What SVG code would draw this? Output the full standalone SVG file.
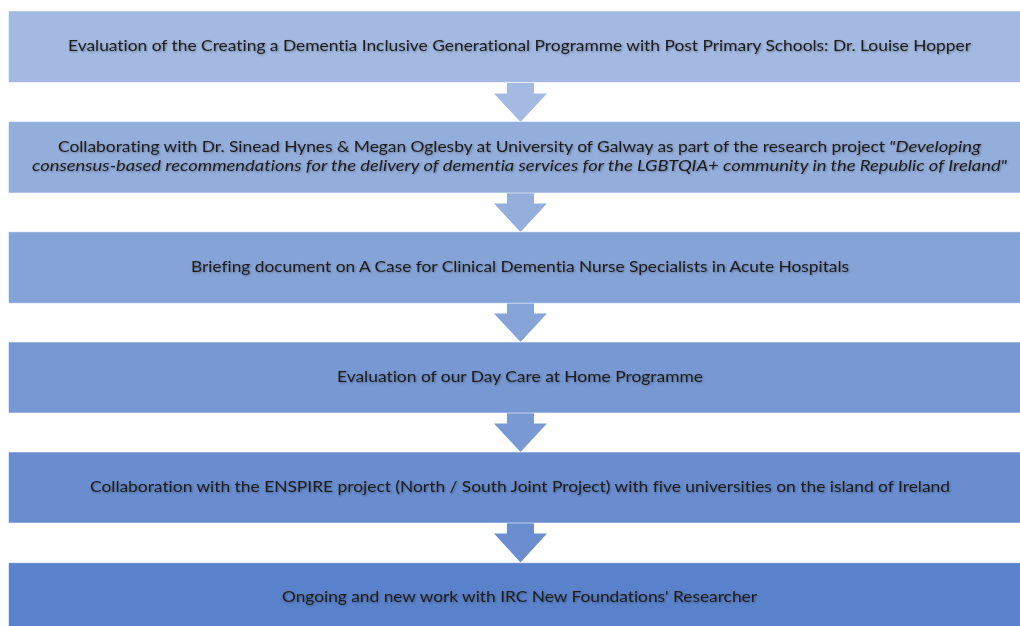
<svg xmlns="http://www.w3.org/2000/svg" width="1020" height="626" viewBox="0 0 1020 626">
<style>
.box{stroke:#ffffff;stroke-opacity:0.55;stroke-width:1}
.t{font-family:Lato,"Liberation Sans",Arial,sans-serif;font-size:15px;fill:#1c1c1c;text-anchor:middle;filter:url(#sh);font-variant-ligatures:none}
.ts{font-family:Lato,"Liberation Sans",Arial,sans-serif;font-size:15px;fill:#1c1c1c;text-anchor:start;filter:url(#sh);font-variant-ligatures:none}
.i{font-style:italic}
</style>
<defs>
<filter id="sh" x="-5%" y="-50%" width="110%" height="200%">
<feGaussianBlur in="SourceAlpha" stdDeviation="0.8" result="b"/>
<feOffset in="b" dx="0.6" dy="0.8" result="o"/>
<feComponentTransfer in="o" result="s"><feFuncA type="linear" slope="0.35"/></feComponentTransfer>
<feMerge><feMergeNode in="s"/><feMergeNode in="SourceGraphic"/></feMerge>
</filter>
</defs>
<rect width="1020" height="626" fill="#ffffff"/>
<g id="connectors">
<polygon fill="#A4BAE2" points="507,83 534,83 534,93.5 547,93.5 520.5,122 494,93.5 507,93.5"/>
<polygon fill="#95AFDD" points="507,193 534,193 534,203.5 547,203.5 520.5,232 494,203.5 507,203.5"/>
<polygon fill="#87A4D9" points="507,303 534,303 534,313.5 547,313.5 520.5,342 494,313.5 507,313.5"/>
<polygon fill="#7899D4" points="507,413 534,413 534,423.5 547,423.5 520.5,452 494,423.5 507,423.5"/>
<polygon fill="#6A8ED0" points="507,523 534,523 534,533.5 547,533.5 520.5,562.5 494,533.5 507,533.5"/>
</g>
<g id="node1">
<rect class="box" x="8.5" y="11" width="1020" height="71.5" fill="#A3B9E1"/>
<text class="t" x="519.5" y="50.7" textLength="903" lengthAdjust="spacingAndGlyphs">Evaluation of the Creating a Dementia Inclusive Generational Programme with Post Primary Schools: Dr. Louise Hopper</text>
</g>
<g id="node2">
<rect class="box" x="8.5" y="121.5" width="1020" height="71.5" fill="#94AEDC"/>
<text class="ts" x="58" y="151.5" textLength="827" lengthAdjust="spacingAndGlyphs">Collaborating with Dr. Sinead Hynes &amp; Megan Oglesby at University of Galway as part of the research project</text>
<text class="ts i" x="889" y="151.5" textLength="92" lengthAdjust="spacingAndGlyphs">"Developing</text>
<text class="t i" x="519.5" y="170.5" textLength="975" lengthAdjust="spacingAndGlyphs">consensus-based recommendations for the delivery of dementia services for the LGBTQIA+ community in the Republic of Ireland"</text>
</g>
<g id="node3">
<rect class="box" x="8.5" y="231.8" width="1020" height="71.5" fill="#86A3D8"/>
<text class="t" x="520" y="271.5" textLength="658" lengthAdjust="spacingAndGlyphs">Briefing document on A Case for Clinical Dementia Nurse Specialists in Acute Hospitals</text>
</g>
<g id="node4">
<rect class="box" x="8.5" y="342" width="1020" height="71" fill="#7798D3"/>
<text class="t" x="520" y="381.5" textLength="366" lengthAdjust="spacingAndGlyphs">Evaluation of our Day Care at Home Programme</text>
</g>
<g id="node5">
<rect class="box" x="8.5" y="452" width="1020" height="71" fill="#698DCF"/>
<text class="t" x="520" y="491.5" textLength="860" lengthAdjust="spacingAndGlyphs">Collaboration with the ENSPIRE project (North / South Joint Project) with five universities on the island of Ireland</text>
</g>
<g id="node6">
<rect class="box" x="8.5" y="562.7" width="1020" height="71.5" fill="#5A82CA"/>
<text class="t" x="519.5" y="602" textLength="475" lengthAdjust="spacingAndGlyphs">Ongoing and new work with IRC New Foundations' Researcher</text>
</g>
</svg>
